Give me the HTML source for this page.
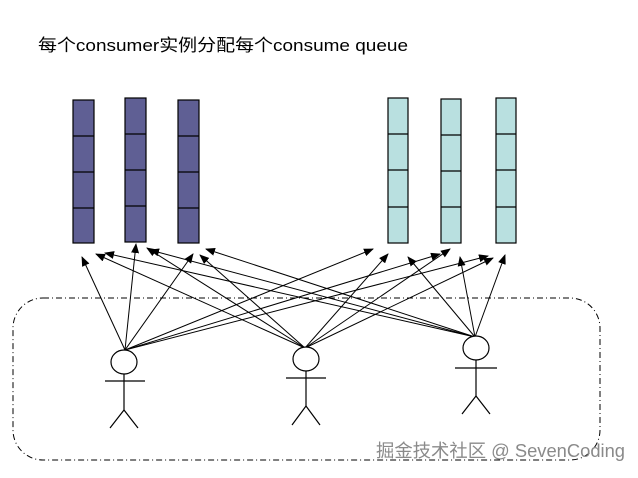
<!DOCTYPE html>
<html><head><meta charset="utf-8"><style>
body{margin:0;background:#fff;width:638px;height:473px;overflow:hidden}
</style></head><body>
<svg width="638" height="473" xmlns="http://www.w3.org/2000/svg">
<defs><marker id="a" markerWidth="10" markerHeight="8" refX="9" refY="4" orient="auto" markerUnits="userSpaceOnUse"><path d="M0,0 L10,4 L0,8 z" fill="#000"/></marker></defs>
<text x="38" y="51" font-family="Liberation Sans, Noto Sans CJK SC, sans-serif" font-size="17" textLength="370" lengthAdjust="spacingAndGlyphs">每个consumer实例分配每个consume queue</text>
<g stroke="#000" stroke-width="1.2">
<g fill="#5f5f94">
<rect x="73" y="100" width="21" height="143"/><line x1="73" y1="136" x2="94" y2="136"/><line x1="73" y1="172" x2="94" y2="172"/><line x1="73" y1="208" x2="94" y2="208"/>
<rect x="125" y="98" width="21" height="144"/><line x1="125" y1="134" x2="146" y2="134"/><line x1="125" y1="170" x2="146" y2="170"/><line x1="125" y1="206" x2="146" y2="206"/>
<rect x="178" y="100" width="21" height="143"/><line x1="178" y1="136" x2="199" y2="136"/><line x1="178" y1="172" x2="199" y2="172"/><line x1="178" y1="208" x2="199" y2="208"/>
</g>
<g fill="#b9e0e0">
<rect x="388" y="98" width="20" height="145"/><line x1="388" y1="134" x2="408" y2="134"/><line x1="388" y1="170" x2="408" y2="170"/><line x1="388" y1="207" x2="408" y2="207"/>
<rect x="441" y="99" width="20" height="144"/><line x1="441" y1="135" x2="461" y2="135"/><line x1="441" y1="171" x2="461" y2="171"/><line x1="441" y1="207" x2="461" y2="207"/>
<rect x="496" y="98" width="20" height="145"/><line x1="496" y1="134" x2="516" y2="134"/><line x1="496" y1="170" x2="516" y2="170"/><line x1="496" y1="207" x2="516" y2="207"/>
</g>
</g>
<rect x="13" y="298" width="587" height="162" rx="30" fill="none" stroke="#000" stroke-width="1" stroke-dasharray="6,3,1,3"/>
<g stroke="#000" stroke-width="1" marker-end="url(#a)">
<line x1="125" y1="350" x2="82" y2="257"/><line x1="125" y1="350" x2="136" y2="244"/><line x1="125" y1="350" x2="193" y2="254"/><line x1="125" y1="350" x2="373" y2="249"/><line x1="125" y1="350" x2="440" y2="254"/><line x1="125" y1="350" x2="488" y2="256"/>
<line x1="305" y1="348" x2="96" y2="254"/><line x1="305" y1="348" x2="147" y2="248"/><line x1="305" y1="348" x2="200" y2="255"/><line x1="305" y1="348" x2="388" y2="254"/><line x1="305" y1="348" x2="450" y2="249"/><line x1="305" y1="348" x2="493" y2="258"/>
<line x1="475" y1="337" x2="105" y2="253"/><line x1="475" y1="337" x2="150" y2="250"/><line x1="475" y1="337" x2="206" y2="249"/><line x1="475" y1="337" x2="408" y2="257"/><line x1="475" y1="337" x2="460" y2="257"/><line x1="475" y1="337" x2="505" y2="255"/>
</g>
<g stroke="#000" stroke-width="1.2" fill="#fff">
<ellipse cx="124" cy="362" rx="13" ry="12"/><line x1="124" y1="374" x2="124" y2="410"/><line x1="105" y1="381" x2="145" y2="381"/><polyline fill="none" points="110,428 124,410 138,428"/>
<ellipse cx="306" cy="359" rx="13" ry="12"/><line x1="306" y1="371" x2="306" y2="406"/><line x1="286" y1="378" x2="326" y2="378"/><polyline fill="none" points="292,425 306,406 320,425"/>
<ellipse cx="476" cy="348" rx="13" ry="12"/><line x1="476" y1="360" x2="476" y2="396"/><line x1="455" y1="368" x2="497" y2="368"/><polyline fill="none" points="462,414 476,396 490,414"/>
</g>
<text x="376" y="457" font-family="Liberation Sans, Noto Sans CJK SC, sans-serif" font-size="18" fill="#8a8a8a" textLength="249" lengthAdjust="spacingAndGlyphs">掘金技术社区 @ SevenCoding</text>
</svg>
</body></html>
